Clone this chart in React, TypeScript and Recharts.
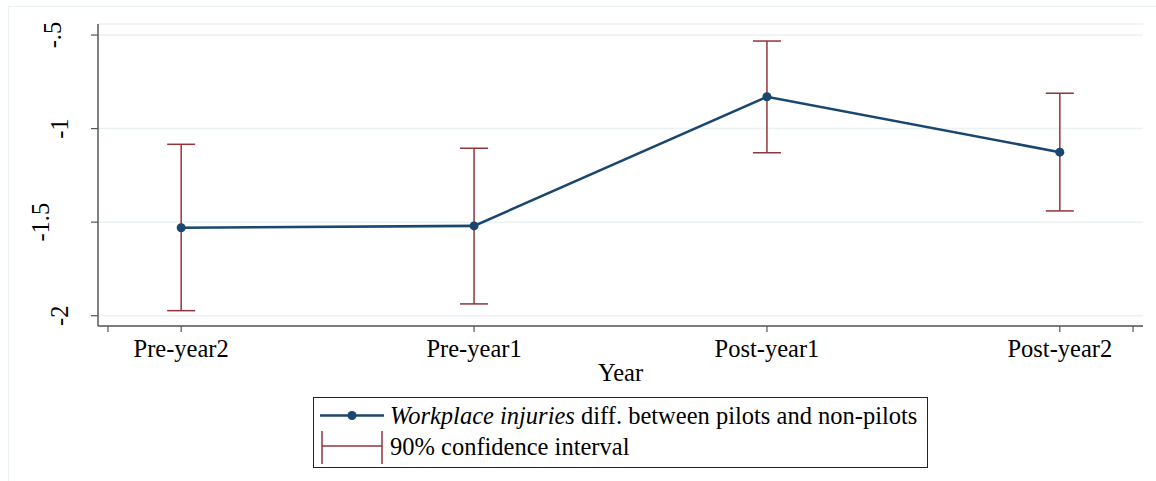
import React from 'react'
import { ComposedChart, Line, ErrorBar, XAxis, YAxis, CartesianGrid } from 'recharts'

const periods = ['Pre-year2', 'Pre-year1', 'Post-year1', 'Post-year2']
const estimates = [-1.53, -1.52, -0.83, -1.126]
const ciLower = [-1.973, -1.937, -1.129, -1.44]
const ciUpper = [-1.084, -1.105, -0.532, -0.811]

const yTicks = [-2, -1.5, -1, -0.5]
const xTicks = [0.75, 1, 2, 3, 4, 4.25]

const data = periods.map((p, i) => ({
  x: i + 1,
  label: p,
  est: estimates[i],
  err: [estimates[i] - ciLower[i], ciUpper[i] - estimates[i]],
}))

const NAVY = '#1a476f'
const MAROON = '#90353b'
const GRID = '#eaf2f3'
const AXIS = '#555'
const FONT = "'Liberation Serif', 'Times New Roman', serif"
const FS = 24.5

// stata style: -.5 instead of -0.5
const stataNum = (v: number) => String(v).replace(/^(-?)0\./, '$1.')

let ctx: CanvasRenderingContext2D | null = null
const textWidth = (s: string) => {
  if (!ctx) ctx = document.createElement('canvas').getContext('2d')
  if (!ctx) return s.length * FS * 0.45
  ctx.font = `${FS}px ${FONT}`
  return ctx.measureText(s).width
}

const YTick = (props: any) => {
  const { y, payload } = props
  const s = stataNum(payload.value)
  const bx = 88 - textWidth(s)
  return (
    <text x={bx} y={y} transform={`rotate(-90, ${bx}, ${y})`} textAnchor="middle"
      fontFamily={FONT} fontSize={FS} fill="#000">{s}</text>
  )
}

const XTick = (props: any) => {
  const { x, y, payload } = props
  const idx = periods.findIndex((_, i) => i + 1 === payload.value)
  if (idx < 0) return null
  return (
    <text x={x} y={y} dy={25} textAnchor="middle" fontFamily={FONT} fontSize={FS} fill="#000">
      {periods[idx]}
    </text>
  )
}

const YearLabel = (props: any) => {
  const { viewBox } = props
  return (
    <text x={viewBox.x + viewBox.width / 2} y={viewBox.y + 55} textAnchor="middle"
      fontFamily={FONT} fontSize={FS} fill="#000">Year</text>
  )
}

export default function App() {
  return (
    <div style={{ position: 'absolute', left: 0, top: 0, width: 1156, height: 481, overflow: 'hidden', background: '#fff' }}>
      <div style={{ position: 'absolute', left: 8, top: 6, width: 1200, height: 520, border: `1px solid ${GRID}` }} />
      <ComposedChart width={1156} height={481} data={data}
        margin={{ top: 24, right: 13, bottom: 0, left: 1 }}>
        <CartesianGrid vertical={false} stroke={GRID} strokeWidth={1.5} />
        <XAxis dataKey="x" type="number" domain={[0.716, 4.284]} ticks={xTicks}
          allowDataOverflow interval={0} height={155} tickSize={6} tickMargin={0}
          stroke={AXIS} strokeWidth={1.5} tickLine={{ stroke: AXIS, strokeWidth: 1.2 }}
          tick={<XTick />} label={<YearLabel />} />
        <YAxis type="number" domain={[-2.055, -0.441]} ticks={yTicks} allowDataOverflow
          interval={0} width={97} tickSize={7} stroke={AXIS} strokeWidth={1.5}
          tickLine={{ stroke: AXIS, strokeWidth: 1.2 }} tick={<YTick />} />
        <Line dataKey="est" type="linear" stroke={NAVY} strokeWidth={2.6}
          dot={{ r: 4.5, fill: NAVY, stroke: NAVY, strokeWidth: 0 }} isAnimationActive={false}>
          <ErrorBar dataKey="err" direction="y" width={14} stroke={MAROON} strokeWidth={1.5}
            isAnimationActive={false} />
        </Line>
      </ComposedChart>
      <div style={{ position: 'absolute', left: 313, top: 397, width: 613, height: 67, border: '1px solid #222',
        fontFamily: FONT, fontSize: FS, color: '#000', lineHeight: '31px', paddingTop: 2, boxSizing: 'content-box' }}>
        <div style={{ display: 'flex', alignItems: 'center', height: 31 }}>
          <svg width={76} height={31} style={{ flex: 'none' }}>
            <line x1={6} x2={70} y1={15.5} y2={15.5} stroke={NAVY} strokeWidth={2.6} />
            <circle cx={38} cy={15.5} r={4.5} fill={NAVY} />
          </svg>
          <span><i>Workplace injuries</i> diff. between pilots and non-pilots</span>
        </div>
        <div style={{ display: 'flex', alignItems: 'center', height: 31 }}>
          <svg width={76} height={34} style={{ flex: 'none' }}>
            <line x1={8} x2={8} y1={1} y2={34} stroke={MAROON} strokeWidth={1.5} />
            <line x1={68} x2={68} y1={1} y2={34} stroke={MAROON} strokeWidth={1.5} />
            <line x1={8} x2={68} y1={16} y2={16} stroke={MAROON} strokeWidth={1.5} />
          </svg>
          <span>90% confidence interval</span>
        </div>
      </div>
    </div>
  )
}
